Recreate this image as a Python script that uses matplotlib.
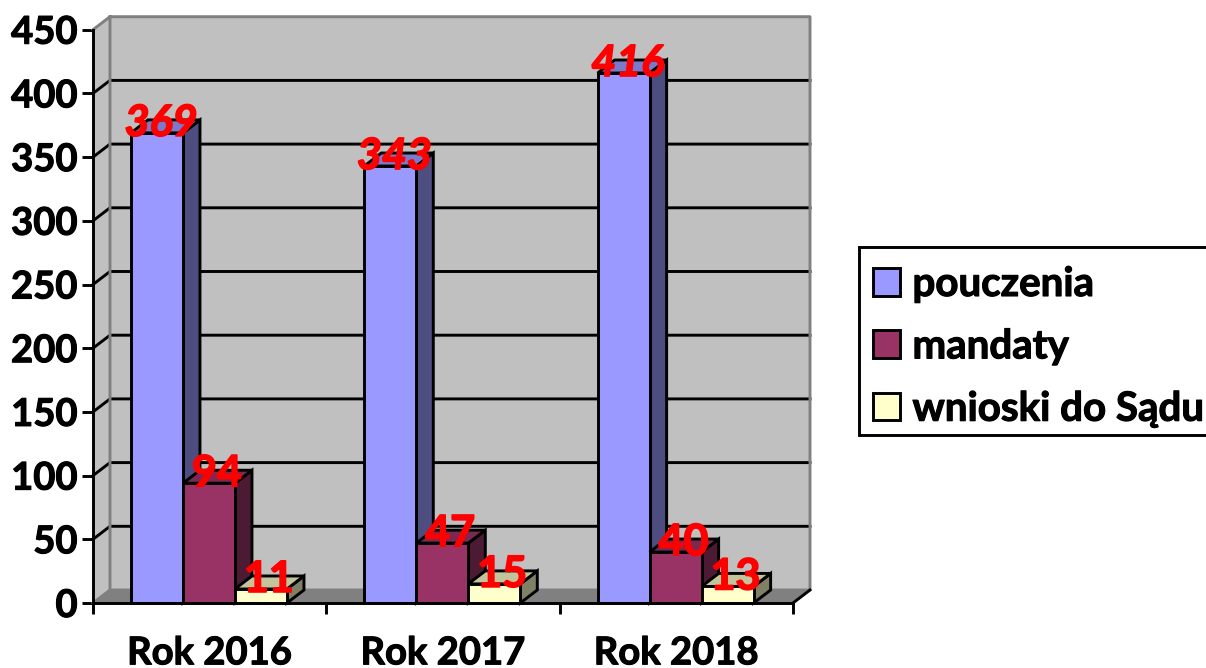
import matplotlib
matplotlib.use("Agg")
import matplotlib.pyplot as plt
import matplotlib.patheffects as pe
from matplotlib.patches import Polygon, Patch, Rectangle

plt.rcParams['font.family'] = ['Lato', 'DejaVu Sans']
plt.rcParams['font.weight'] = 'bold'

# - - - - - - - - - - - - data - - - - - - - - - - - - #
categories = ["Rok 2016", "Rok 2017", "Rok 2018"]
series_names = ["pouczenia", "mandaty", "wnioski do Sądu"]
pouczenia = [369, 343, 416]
mandaty = [94, 47, 40]
wnioski = [11, 15, 13]
y_ticks = [0, 50, 100, 150, 200, 250, 300, 350, 400, 450]

front_colors = ["#9999FF", "#993366", "#FFFFCC"]
top_colors = ["#7A7ACC", "#7A2952", "#C4C49C"]
side_colors = ["#4D4D80", "#4D1A33", "#808066"]
wall_color = "#C0C0C0"
floor_color = "#808080"

# - - - - - - - - - - - - layout - - - - - - - - - - - - #
W, H = 1206, 668
fig = plt.figure(figsize=(W / 100, H / 100), dpi=100)
ax = fig.add_axes([93 / W, (H - 603) / H, 700 / W, 573.3 / H])
ax.set_xlim(0, 3)
ax.set_ylim(0, 450)

# depth of the fake 3D, in data units
px_x = 3 / 700
px_y = 450 / 573.3
dx = 17 * px_x
dy = 13 * px_y
bar_w = 52 * px_x
group_shift = -0.7 * px_x
LW = 2.1


def poly(pts, fc, ec="none", z=1, lw=LW):
    ax.add_patch(Polygon(pts, closed=True, facecolor=fc, edgecolor=ec, linewidth=lw,
                         zorder=z, clip_on=False, joinstyle="miter"))


def heavy(txt, color="black", w=0.8):
    # Lato bold is lighter than the font in the picture
    txt.set_path_effects([pe.withStroke(linewidth=w, foreground=color)])


# walls and floor
poly([(0, 0), (dx, dy), (dx, 450 + dy), (0, 450)], wall_color, z=1)
poly([(dx, dy), (3 + dx, dy), (3 + dx, 450 + dy), (dx, 450 + dy)], wall_color, z=1)
poly([(0, 0), (3, 0), (3 + dx, dy), (dx, dy)], floor_color, z=1)

# gridlines on both walls
for v in y_ticks[1:-1]:
    ax.plot([0, dx, 3 + dx], [v, v + dy, v + dy], color="black", lw=LW, zorder=2,
            clip_on=False, solid_joinstyle="miter")

# grey outline of the walls
ax.plot([0, dx, 3 + dx, 3 + dx, dx, dx], [450, 450 + dy, 450 + dy, dy, dy, 450 + dy],
        color=floor_color, lw=LW, zorder=2, clip_on=False)
ax.plot([0, dx], [0, dy], color=floor_color, lw=LW, zorder=2, clip_on=False)
ax.plot([3, 3 + dx], [0, dy], color="black", lw=LW, zorder=2, clip_on=False)

# bars
all_series = [pouczenia, mandaty, wnioski]
z = 3
for i in range(len(categories)):
    for s, vals in enumerate(all_series):
        x0 = i + 0.5 + (s - 1.5) * bar_w + group_shift
        x1 = x0 + bar_w
        v = vals[i]
        poly([(x1, 0), (x1 + dx, dy), (x1 + dx, v + dy), (x1, v)], side_colors[s], "black", z)
        poly([(x0, v), (x1, v), (x1 + dx, v + dy), (x0 + dx, v + dy)], top_colors[s], "black", z)
        ax.bar(x0, v, width=bar_w, align="edge", color=front_colors[s], edgecolor="black",
               linewidth=LW, zorder=z + 0.5, clip_on=False)
        z += 1

# data labels
for i in range(len(categories)):
    for s, vals in enumerate(all_series):
        x0 = i + 0.5 + (s - 1) * bar_w
        style = "italic" if s == 0 else "normal"
        shift = 0.2 if s == 0 else 0.42
        t = ax.text(x0 + dx * shift, vals[i] + dy - 3 * px_y, str(vals[i]), color="#FF0000",
                    fontsize=31, fontweight="bold", fontstyle=style, ha="center", va="center",
                    zorder=50)
        heavy(t, "#FF0000", 1.2)

# axes
for name in ["top", "right"]:
    ax.spines[name].set_visible(False)
for name in ["left", "bottom"]:
    ax.spines[name].set_linewidth(LW)
    ax.spines[name].set_zorder(40)
ax.patch.set_visible(False)
ax.set_yticks(y_ticks)
ax.set_xticks([0, 1, 2, 3])
ax.set_xticklabels([])
ax.set_xticks([0.5, 1.5, 2.5], categories, minor=True)
ax.tick_params(axis="y", length=8, width=LW, labelsize=27.5, pad=3)
ax.tick_params(axis="x", which="major", length=8, width=LW)
ax.tick_params(axis="x", which="minor", length=0, labelsize=27.5, pad=24)
for t in ax.get_yticklabels() + ax.get_xticklabels(minor=True):
    heavy(t)

# legend, its frame runs off the right edge of the picture
fig.add_artist(Rectangle((859 / W, (H - 435) / H), 400 / W, 188 / H, transform=fig.transFigure,
                         facecolor="white", edgecolor="black", linewidth=LW))
handles = [Patch(facecolor=c, edgecolor="black", linewidth=LW) for c in front_colors]
leg = fig.legend(handles, series_names, loc="upper left",
                 bbox_to_anchor=(873 / W, (H - 266) / H), bbox_transform=fig.transFigure,
                 fontsize=29, frameon=False, borderaxespad=0, borderpad=0,
                 handlelength=0.68, handleheight=0.68, handletextpad=0.3, labelspacing=0.63)
for t in leg.get_texts():
    heavy(t)

fig.savefig("out.png", dpi=100)
